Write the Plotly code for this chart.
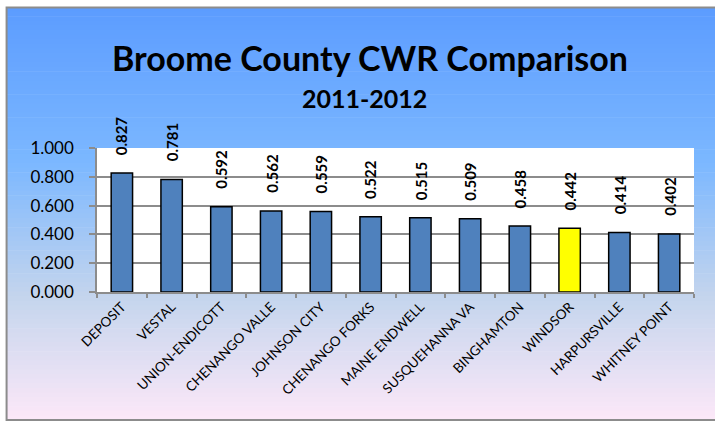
import plotly.graph_objects as go

categories = ["DEPOSIT", "VESTAL", "UNION-ENDICOTT", "CHENANGO VALLE", "JOHNSON CITY",
              "CHENANGO FORKS", "MAINE ENDWELL", "SUSQUEHANNA VA", "BINGHAMTON",
              "WINDSOR", "HARPURSVILLE", "WHITNEY POINT"]
values = [0.827, 0.781, 0.592, 0.562, 0.559, 0.522, 0.515, 0.509, 0.458, 0.442, 0.414, 0.402]
highlight = "WINDSOR"
title_text = "Broome County CWR Comparison"
subtitle_text = "2011-2012"
y_ticks = [0.0, 0.2, 0.4, 0.6, 0.8, 1.0]

W, H = 715, 422
ML, MR, MT, MB = 97, 20.5, 148, 130
PW = W - ML - MR
PH = H - MT - MB

def px_x(px):
    return (px - ML) / PW

def px_y(py):
    return (H - MB - py) / PH

FONT = "Lato"
blue = "#4F81BD"
yellow = "#FFFF00"
colors = [yellow if c == highlight else blue for c in categories]

fig = go.Figure()
fig.add_trace(go.Bar(
    x=categories, y=values,
    marker=dict(color=colors, line=dict(color="black", width=1.5)),
    hoverinfo="skip",
))

# gradient background
stops = [(0.0, (92, 156, 255)), (0.38, (124, 184, 255)), (0.70, (196, 213, 237)), (1.0, (252, 232, 248))]

def col_at(t):
    for (t0, c0), (t1, c1) in zip(stops[:-1], stops[1:]):
        if t <= t1:
            f = (t - t0) / (t1 - t0) if t1 > t0 else 0
            return tuple(round(c0[i] + (c1[i] - c0[i]) * f) for i in range(3))
    return stops[-1][1]

shapes = []
top, bottom = 7, 420
n = 90
for i in range(n):
    y0 = top + (bottom - top) * i / n
    y1 = top + (bottom - top) * (i + 1) / n + 0.6
    c = col_at((i + 0.5) / n)
    shapes.append(dict(type="rect", xref="paper", yref="paper",
                       x0=px_x(6), x1=px_x(716), y0=px_y(y1), y1=px_y(y0),
                       fillcolor="rgb(%d,%d,%d)" % c, line=dict(width=0), layer="below"))
# plot area white
shapes.append(dict(type="rect", xref="x domain", yref="y domain", x0=0, x1=1, y0=0, y1=1,
                   fillcolor="white", line=dict(width=0), layer="below"))
# chart border
shapes.append(dict(type="rect", xref="paper", yref="paper",
                   x0=px_x(6.5), x1=px_x(730), y0=px_y(420), y1=px_y(7.5),
                   fillcolor="rgba(0,0,0,0)", line=dict(color="#8C8C8C", width=2), layer="above"))

annotations = [
    dict(text=f"<b>{title_text}</b>", xref="paper", yref="paper", x=px_x(370), y=px_y(57),
         showarrow=False, font=dict(family=FONT, size=34, color="black"), xanchor="center", yanchor="middle"),
    dict(text=f"<b>{subtitle_text}</b>", xref="paper", yref="paper", x=px_x(365), y=px_y(98),
         showarrow=False, font=dict(family=FONT, size=25, color="black"), xanchor="center", yanchor="middle"),
]
for c, v in zip(categories, values):
    annotations.append(dict(text=f"<b>{v:.3f}</b>", x=c, y=v, xref="x", yref="y", textangle=-90,
                            showarrow=False, yanchor="bottom", xanchor="center", yshift=16,
                            font=dict(family=FONT, size=15, color="black")))

fig.update_layout(
    width=W, height=H,
    margin=dict(l=ML, r=MR, t=MT, b=MB, autoexpand=False),
    paper_bgcolor="white", plot_bgcolor="white",
    bargap=0.57,
    showlegend=False,
    shapes=shapes,
    annotations=annotations,
    font=dict(family=FONT, color="black"),
    xaxis=dict(tickangle=-45, tickson="boundaries", ticks="outside", ticklen=4, tickcolor="#8C8C8C",
               tickwidth=1.5, showline=True, linecolor="#8C8C8C", linewidth=1.5, showgrid=False,
               tickfont=dict(family=FONT, size=13.5, color="black")),
    yaxis=dict(range=[0, 1.0], tickvals=y_ticks, tickformat=".3f", ticks="outside", ticklen=6,
               tickcolor="#8C8C8C", tickwidth=1.5, showline=True, linecolor="#8C8C8C", linewidth=1.5,
               showgrid=True, gridcolor="#8C8C8C", gridwidth=1.5, zeroline=False,
               ticklabelstandoff=12,
               tickfont=dict(family=FONT, size=17, color="black")),
)

fig.write_html("out.html", config={"displayModeBar": False},
               post_script="document.body.style.margin='0';document.body.style.overflow='hidden';")
